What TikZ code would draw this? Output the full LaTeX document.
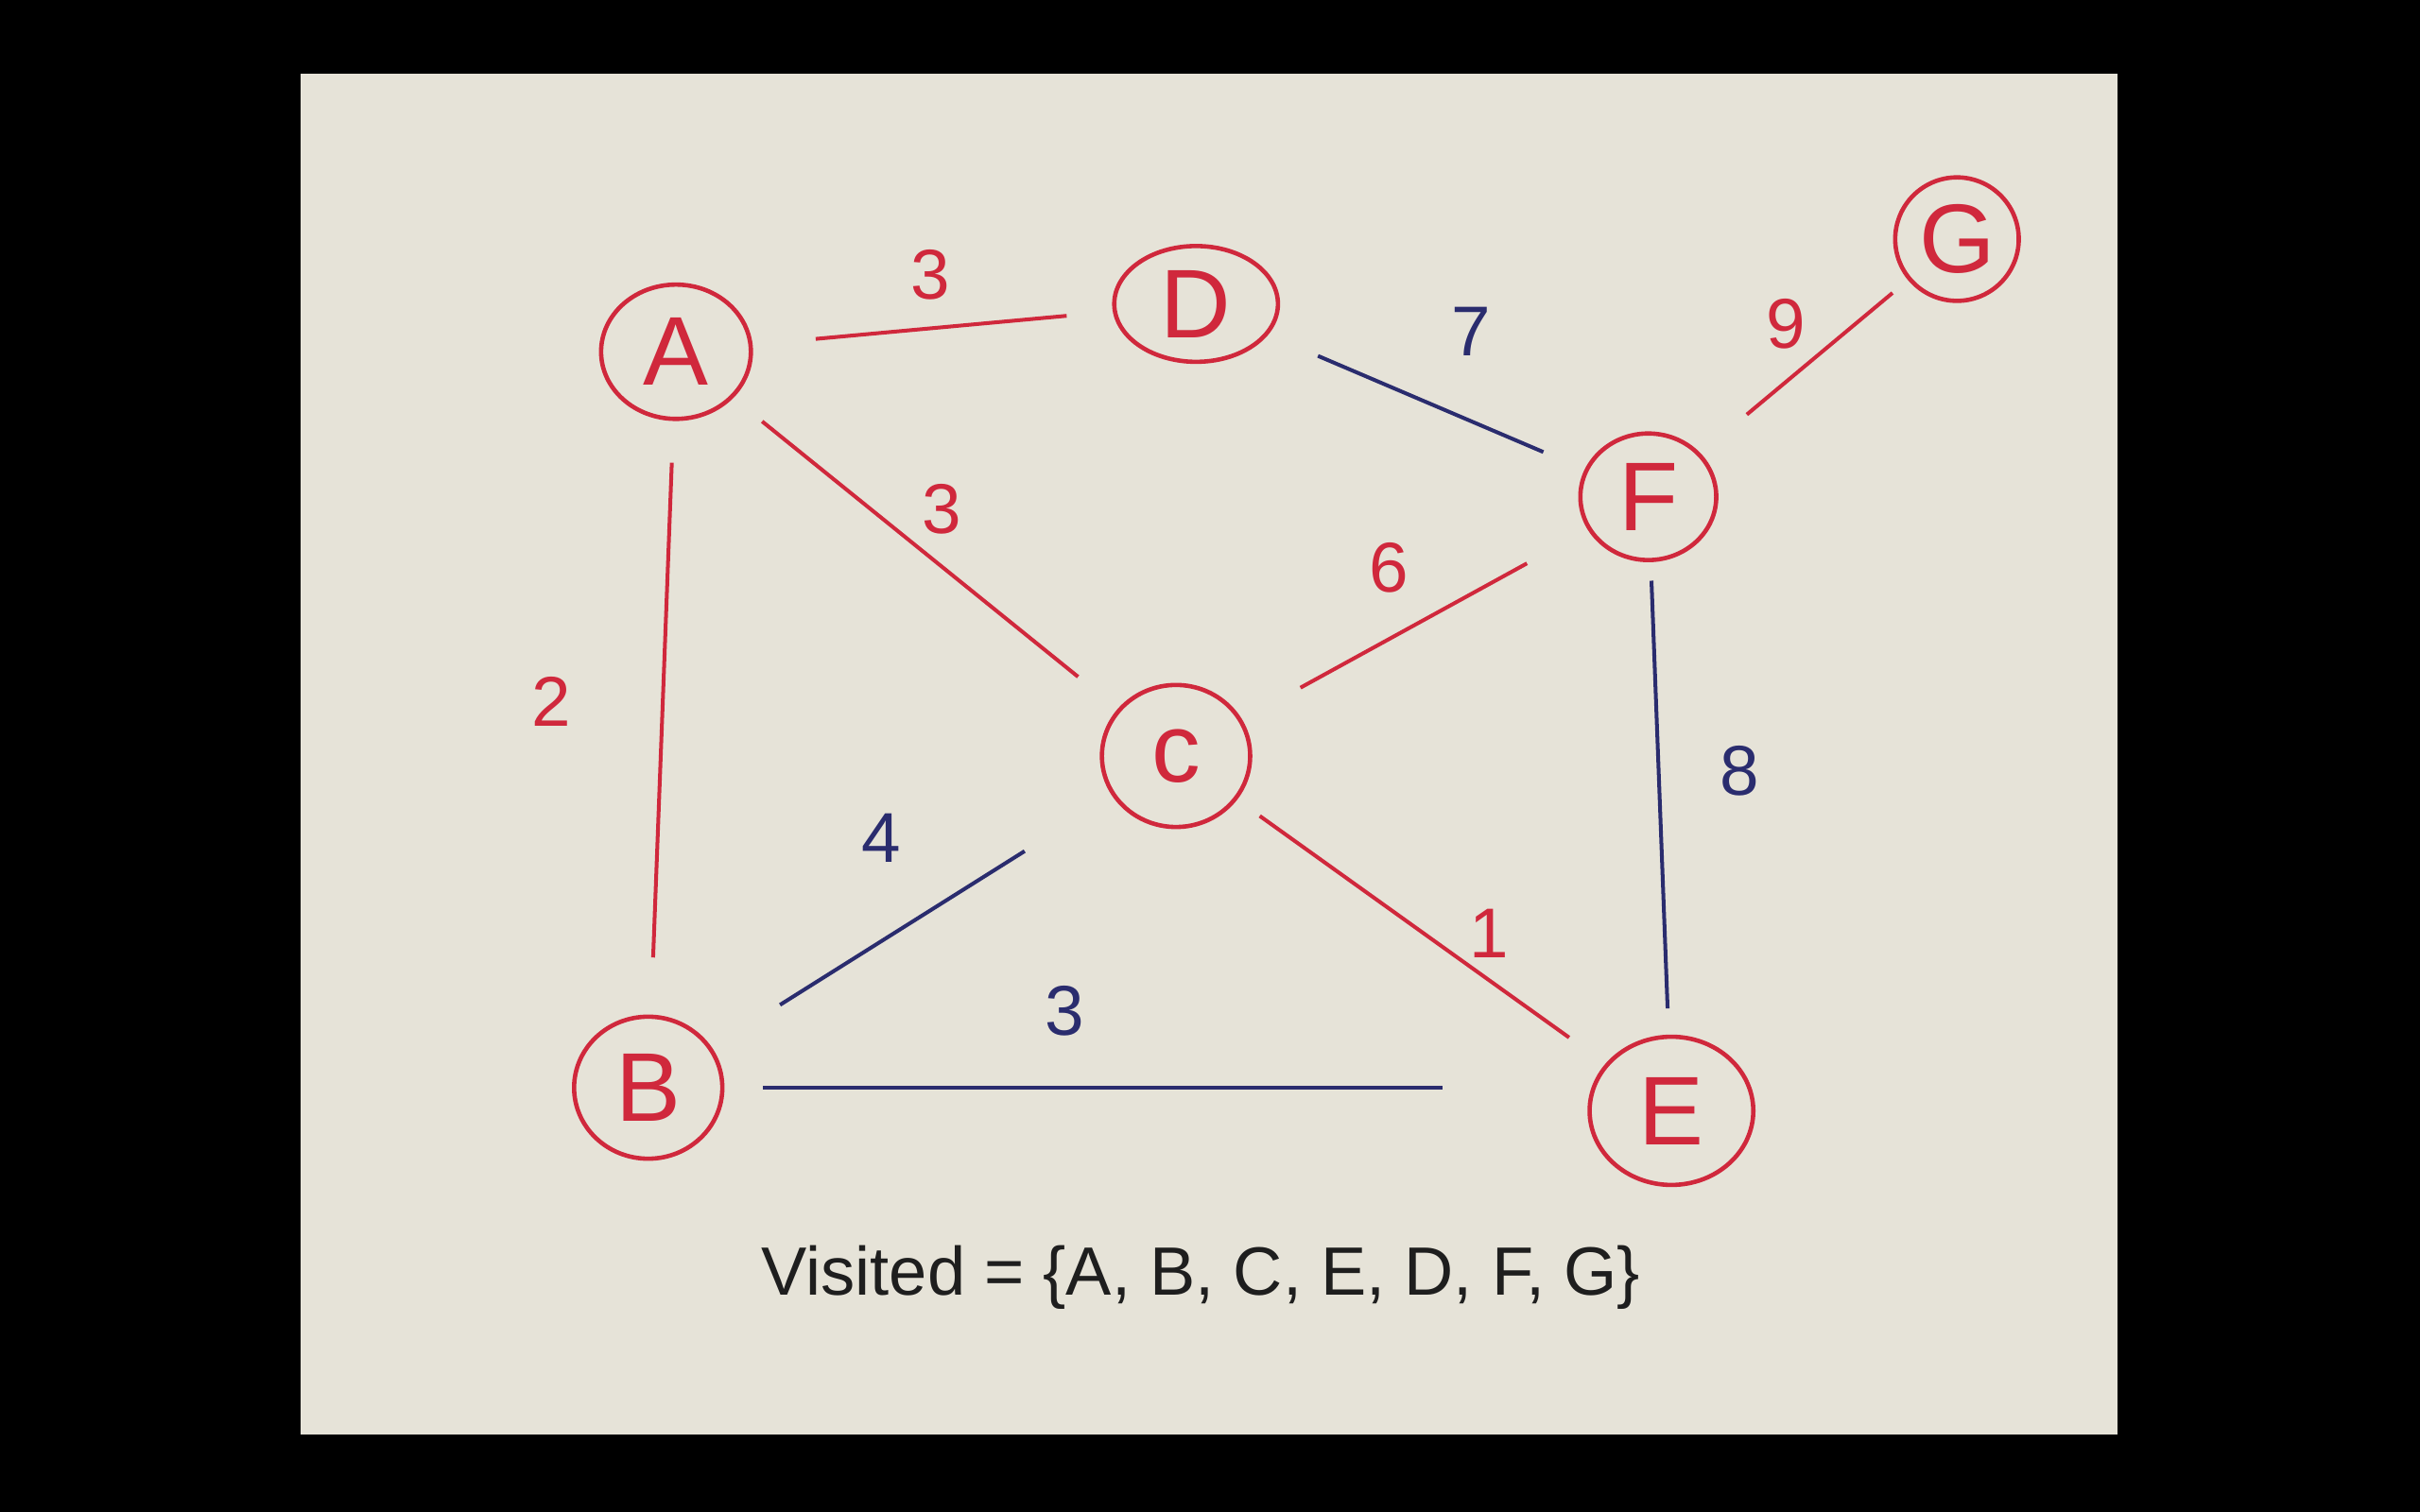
\documentclass[tikz,border=0pt]{standalone}
\usepackage{fontspec}
\setmainfont{Liberation Sans}
\usetikzlibrary{shapes.geometric}
\definecolor{paper}{HTML}{E6E3D8}
\definecolor{penred}{HTML}{D0283C}
\definecolor{penblue}{HTML}{2A2C6E}
\definecolor{penblack}{HTML}{1E1E1E}
\begin{document}
\begin{tikzpicture}[x=0.01cm,y=-0.01cm,
  vert/.style={ellipse, draw=penred, line width=0.8pt, text=penred, inner sep=0pt, font=\fontsize{18}{18}\selectfont},
  redge/.style={draw=penred, line width=0.7pt},
  bedge/.style={draw=penblue, line width=0.7pt},
  rlab/.style={text=penred, font=\fontsize{13}{13}\selectfont},
  blab/.style={text=penblue, font=\fontsize{13}{13}\selectfont}]
\fill[black] (0,0) rectangle (1568,980);
\fill[paper] (195,48) rectangle (1372,930);
\useasboundingbox (0,0) rectangle (1568,980);
% vertices
\node[vert, minimum width=0.97cm, minimum height=0.87cm] (A) at (438,228) {A};
\node[vert, minimum width=1.06cm, minimum height=0.75cm] (D) at (775,197) {D};
\node[vert, minimum width=0.80cm, minimum height=0.80cm] (G) at (1268,155) {G};
\node[vert, minimum width=0.88cm, minimum height=0.82cm] (F) at (1068,322) {F};
\node[vert, minimum width=0.96cm, minimum height=0.92cm] (C) at (762,490) {c};
\node[vert, minimum width=0.96cm, minimum height=0.92cm] (B) at (420,705) {B};
\node[vert, minimum width=1.06cm, minimum height=0.96cm] (E) at (1083,720) {E};
% edges
\draw[redge, shorten <=0.41cm, shorten >=0.30cm] (A) -- (D);
\draw[bedge, shorten <=0.35cm, shorten >=0.29cm] (D) -- (F);
\draw[redge, shorten <=0.39cm, shorten >=0.13cm] (F) -- (G);
\draw[redge, shorten <=0.24cm, shorten >=0.33cm] (A) -- (C);
\draw[redge, shorten <=0.27cm, shorten >=0.37cm] (A) -- (B);
\draw[redge, shorten <=0.43cm, shorten >=0.45cm] (C) -- (F);
\draw[bedge, shorten <=0.12cm, shorten >=0.17cm] (F) -- (E);
\draw[bedge, shorten <=0.52cm, shorten >=0.67cm] (B) -- (C);
\draw[bedge, shorten <=0.25cm, shorten >=1.48cm] (B) -- (B -| E);
\draw[redge, shorten <=0.18cm, shorten >=0.29cm] (C) -- (E);
% weights
\node[rlab] (wAD) at (603,178) {3};
\node[blab] (wDF) at (953,215) {7};
\node[rlab] (wFG) at (1157,210) {9};
\node[rlab] (wAC) at (610,330) {3};
\node[rlab] (wAB) at (357,455) {2};
\node[rlab] (wCF) at (900,368) {6};
\node[blab] (wFE) at (1127,500) {8};
\node[blab] (wBC) at (571,543) {4};
\node[blab] (wBE) at (690,655) {3};
\node[rlab] (wCE) at (965,605) {1};
% visited
\node[text=penblack, font=\fontsize{12.6}{12.6}\selectfont] (vis) at (778,828) {Visited = \{A, B, C, E, D, F, G\}};
\end{tikzpicture}
\end{document}
